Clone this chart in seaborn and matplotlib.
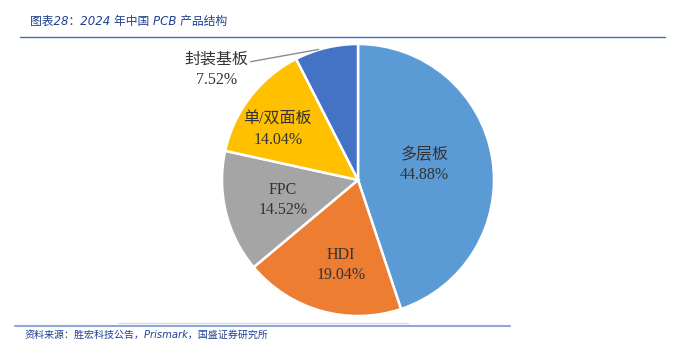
import matplotlib
matplotlib.use("Agg")
import matplotlib.pyplot as plt
import seaborn as sns
import numpy as np

categories = ["多层板", "HDI", "FPC", "单/双面板", "封装基板"]
shares = [44.88, 19.04, 14.52, 14.04, 7.52]
colors = ["#5B9BD5", "#ED7D31", "#A5A5A5", "#FFC000", "#4472C4"]

sns.set_theme(style="white")
plt.rcParams["font.family"] = ["Liberation Serif", "Noto Sans CJK SC", "DejaVu Sans"]

fig = plt.figure(figsize=(6.81, 3.49), dpi=100)
fig.patch.set_facecolor("white")
ax = fig.add_axes([222 / 681, 33 / 349, 272 / 681, 272 / 349])
palette = sns.color_palette(colors)
wedges, _ = ax.pie(shares, colors=palette, startangle=90, counterclock=False,
                   wedgeprops=dict(edgecolor="white", linewidth=1.8))
ax.set_xlim(-1, 1)
ax.set_ylim(-1, 1)
ax.axis("off")

# label positions (in pie radius units)
label_pos = {
    "多层板": (0.49, 0.11),
    "HDI": (-0.125, -0.625),
    "FPC": (-0.55, -0.15),
    "单/双面板": (-0.59, 0.37),
    "封装基板": (-1.04, 0.81),
}
tc = "#333333"
fs = 11.5
for cat, v in zip(categories, shares):
    x, y = label_pos[cat]
    ax.text(x, y, f"{cat}\n{v:.2f}%", ha="center", va="center",
            fontsize=fs, color=tc, linespacing=1.35, clip_on=False)

ax.plot([-0.79, -0.29], [0.87, 0.96], color="#8C8C8C", lw=1.0, clip_on=False)

# title and source
fig.text(30 / 681, 1 - 21 / 349, "图表28：2024 年中国 PCB 产品结构", fontsize=8.5,
         style="italic", color="#1F3F8F", va="center", ha="left",
         family=["DejaVu Sans", "Noto Sans CJK SC"])
fig.add_artist(plt.Line2D([20 / 681, 665 / 681], [1 - 37 / 349] * 2, color="#3F6DB5", lw=1.0))
fig.add_artist(plt.Line2D([118 / 681, 408 / 681], [1 - 323 / 349] * 2, color="#D9D9D9", lw=0.8))
fig.add_artist(plt.Line2D([15 / 681, 510 / 681], [1 - 325.5 / 349] * 2, color="#8EA9D8", lw=1.5))
fig.text(25 / 681, 1 - 335 / 349, "资料来源：胜宏科技公告，Prismark，国盛证券研究所", fontsize=7.2,
         style="italic", color="#1F3F8F", va="center", ha="left",
         family=["DejaVu Sans", "Noto Sans CJK SC"])

fig.savefig("out.png", dpi=100, facecolor="white")
